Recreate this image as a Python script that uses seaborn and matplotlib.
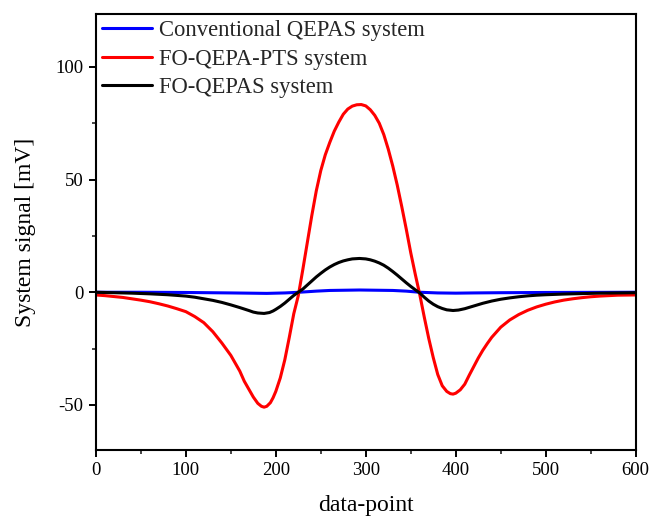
import numpy as np
import pandas as pd
import matplotlib
matplotlib.use("Agg")
import matplotlib.pyplot as plt
from matplotlib.ticker import MultipleLocator
import seaborn as sns

# values
red_x = [0, 10, 20, 30, 40, 50, 60, 70, 80, 90, 100, 110, 120, 130, 140, 150,
         160, 165, 170, 175, 180, 184, 187, 190, 194, 197, 200, 205, 210, 215,
         220, 225, 230, 235, 240, 245, 250, 255, 260, 265, 270, 275, 280, 285,
         290, 295, 300, 305, 310, 315, 320, 325, 330, 335, 340, 345, 350, 355,
         360, 365, 370, 375, 380, 385, 390, 394, 397, 400, 405, 410, 415, 420,
         425, 430, 435, 440, 450, 460, 470, 480, 490, 500, 510, 520, 530, 540,
         550, 560, 570, 580, 590, 600]
red_y = [-1.2, -1.5, -1.9, -2.3, -2.9, -3.5, -4.2, -5.1, -6.1, -7.3, -8.6,
         -10.8, -13.5, -17.5, -22.5, -28.0, -35.0, -39.5, -43.0, -46.5, -49.3,
         -50.6, -51.0, -50.6, -49.0, -46.8, -44.0, -38.0, -30.0, -20.0, -9.5,
         -1.5, 10.0, 22.0, 34.0, 45.0, 54.0, 61.0, 66.5, 71.5, 75.5, 79.0, 81.3,
         82.6, 83.2, 83.3, 82.7, 81.0, 78.5, 75.0, 70.0, 63.5, 56.0, 47.5, 38.0,
         28.0, 17.5, 8.0, -1.0, -11.0, -20.5, -29.0, -36.5, -41.5, -44.0, -45.0,
         -45.2, -44.8, -43.3, -40.8, -36.8, -33.0, -29.2, -25.8, -22.8, -20.0,
         -15.5, -12.3, -9.9, -8.0, -6.5, -5.3, -4.3, -3.5, -2.9, -2.4, -2.0,
         -1.7, -1.5, -1.3, -1.25, -1.2]

black_x = [0, 20, 40, 60, 80, 100, 110, 120, 130, 140, 150, 160, 170, 175, 180,
           187, 193, 197, 200, 205, 210, 215, 220, 226, 230, 235, 240, 245, 250,
           255, 260, 265, 270, 275, 280, 285, 293, 300, 305, 310, 315, 320, 325,
           330, 335, 340, 345, 350, 355, 360, 365, 370, 375, 380, 385, 390, 397,
           403, 410, 420, 430, 440, 450, 460, 470, 480, 490, 500, 520, 540, 560,
           580, 600]
black_y = [0.0, -0.2, -0.4, -0.7, -1.1, -1.7, -2.2, -2.9, -3.6, -4.5, -5.6,
           -6.8, -8.1, -8.8, -9.2, -9.4, -9.0, -8.3, -7.6, -6.3, -4.8, -3.1,
           -1.4, 0.3, 1.4, 3.2, 5.0, 6.8, 8.4, 9.9, 11.2, 12.3, 13.2, 13.9,
           14.4, 14.8, 15.0, 14.8, 14.4, 13.8, 13.0, 12.0, 10.7, 9.2, 7.6, 5.9,
           4.2, 2.6, 1.1, -0.3, -2.2, -3.9, -5.3, -6.4, -7.2, -7.8, -8.1, -7.9,
           -7.3, -6.1, -4.9, -3.9, -3.1, -2.5, -2.0, -1.6, -1.3, -1.1, -0.8,
           -0.6, -0.4, -0.3, -0.2]

blue_x = [0, 50, 100, 150, 170, 190, 210, 226, 245, 260, 293, 330, 345, 360,
          380, 400, 420, 450, 500, 600]
blue_y = [0.0, 0.0, -0.1, -0.3, -0.4, -0.5, -0.3, 0.0, 0.5, 0.8, 1.0, 0.8,
          0.5, 0.0, -0.3, -0.4, -0.3, -0.2, -0.1, 0.0]

series_names = ["Conventional QEPAS system", "FO-QEPA-PTS system", "FO-QEPAS system"]
series_colors = ["#0000ff", "#ff0000", "#000000"]

df = pd.concat([
    pd.DataFrame({"x": blue_x, "y": blue_y, "series": series_names[0]}),
    pd.DataFrame({"x": red_x, "y": red_y, "series": series_names[1]}),
    pd.DataFrame({"x": black_x, "y": black_y, "series": series_names[2]}),
], ignore_index=True)

sns.set_style("ticks")
plt.rcParams["font.family"] = ["Liberation Serif", "DejaVu Serif"]
plt.rcParams["axes.unicode_minus"] = False

fig = plt.figure(figsize=(6.52, 5.17), dpi=100)
ax = fig.add_axes([0.147, 0.1296, 0.828, 0.8434])

sns.lineplot(data=df, x="x", y="y", hue="series", hue_order=series_names,
             palette=dict(zip(series_names, series_colors)), linewidth=2.2,
             sort=False, estimator=None, ax=ax)

ax.set_xlim(0, 600)
ax.set_ylim(-70, 123.5)
ax.xaxis.set_major_locator(MultipleLocator(100))
ax.xaxis.set_minor_locator(MultipleLocator(50))
ax.yaxis.set_major_locator(MultipleLocator(50))
ax.yaxis.set_minor_locator(MultipleLocator(25))
ax.tick_params(which="major", direction="out", length=5, width=1.4,
               labelsize=13.5, colors="black", top=False, right=False, pad=4)
ax.tick_params(which="minor", direction="out", length=3, width=1.2,
               top=False, right=False)
for sp in ax.spines.values():
    sp.set_visible(True)
    sp.set_linewidth(1.5)
    sp.set_color("black")

ax.set_xlabel("data-point", fontsize=17, labelpad=11, color="black")
ax.set_ylabel("System signal [mV]", fontsize=17, labelpad=14, color="black")

ax.legend(loc="upper left", bbox_to_anchor=(0.0, 1.0), frameon=False,
          fontsize=16.3, handlelength=2.2, handletextpad=0.33, labelspacing=0.33,
          borderaxespad=0.0, borderpad=0.27)

plt.savefig("out.png", dpi=100)
